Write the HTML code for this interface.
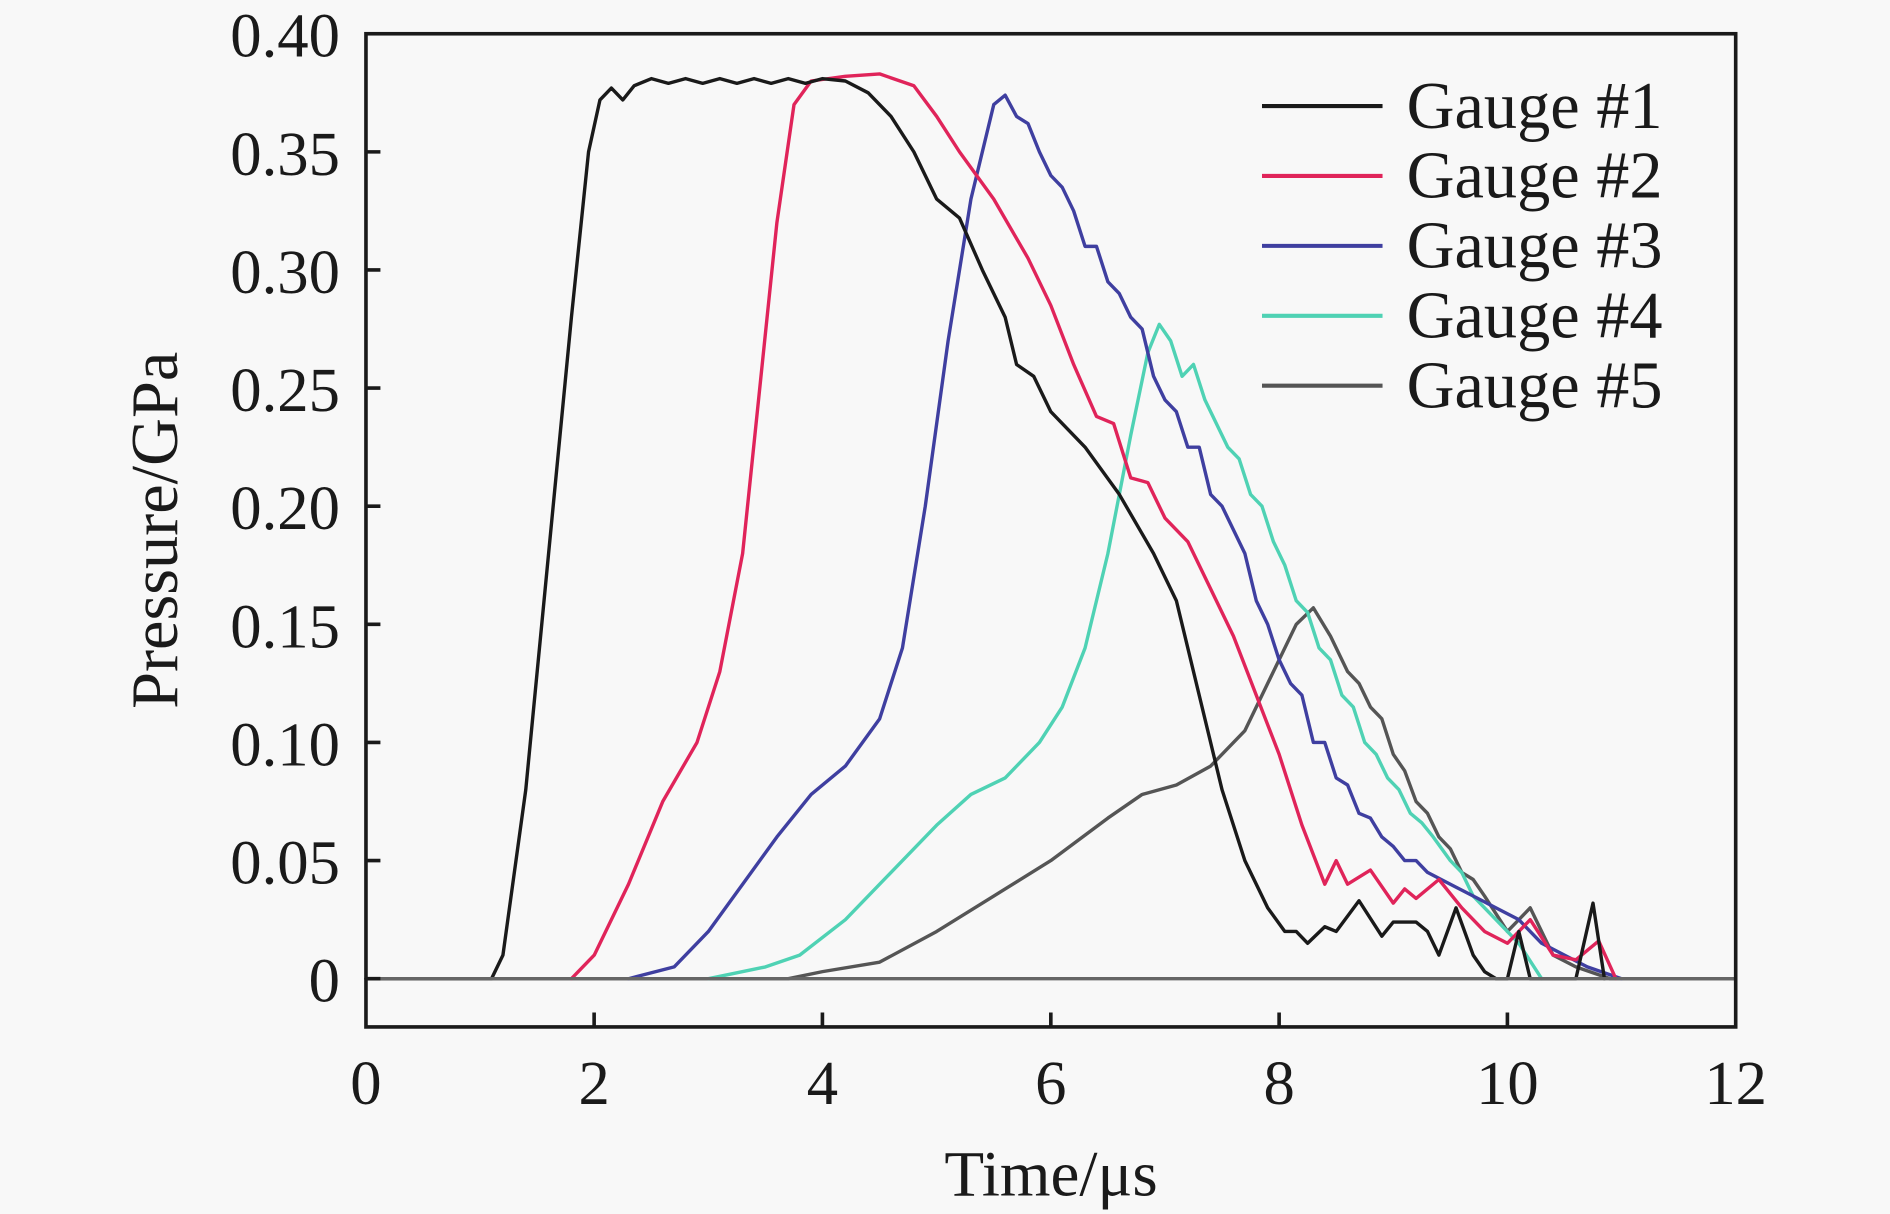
<!DOCTYPE html>
<html><head><meta charset="utf-8"><style>
html,body{margin:0;padding:0;background:#f8f8f8}
svg{display:block}
text{font-family:"Liberation Serif",serif;fill:#1a1a1a}
</style></head><body>
<svg width="1890" height="1214" viewBox="0 0 1568 1007.2" xmlns="http://www.w3.org/2000/svg">
<rect width="1568" height="1007.2" fill="#f8f8f8"/>
<g transform="translate(303.6,812) scale(94.7,-1960)" fill="none" stroke-width="3.4" stroke-linejoin="round" stroke-linecap="round">
<polyline vector-effect="non-scaling-stroke" stroke="#555" points="0,0 3.7,0 4.0,0.003 4.5,0.007 5.0,0.02 5.5,0.035 6.0,0.05 6.5,0.068 6.8,0.078 7.1,0.082 7.4,0.09 7.7,0.105 7.95,0.13 8.15,0.15 8.3,0.157 8.45,0.145 8.6,0.13 8.7,0.125 8.8,0.115 8.9,0.11 9.0,0.095 9.1,0.088 9.2,0.075 9.3,0.07 9.4,0.06 9.5,0.055 9.6,0.045 9.7,0.042 9.8,0.035 10.0,0.02 10.2,0.03 10.4,0.01 10.6,0.005 10.9,0 12,0"/>
<polyline vector-effect="non-scaling-stroke" stroke="#4fd2b4" points="3.0,0 3.5,0.005 3.8,0.01 4.2,0.025 4.6,0.045 5.0,0.065 5.3,0.078 5.6,0.085 5.9,0.1 6.1,0.115 6.3,0.14 6.5,0.18 6.7,0.23 6.85,0.265 6.95,0.277 7.05,0.27 7.15,0.255 7.25,0.26 7.35,0.245 7.45,0.235 7.55,0.225 7.65,0.22 7.75,0.205 7.85,0.2 7.95,0.185 8.05,0.175 8.15,0.16 8.25,0.155 8.35,0.14 8.45,0.135 8.55,0.12 8.65,0.115 8.75,0.1 8.85,0.095 8.95,0.085 9.05,0.08 9.15,0.07 9.25,0.066 9.35,0.06 9.5,0.05 9.6,0.045 9.7,0.035 9.9,0.025 10.1,0.015 10.3,0"/>
<polyline vector-effect="non-scaling-stroke" stroke="#3f3fa0" points="2.3,0 2.7,0.005 3.0,0.02 3.3,0.04 3.6,0.06 3.9,0.078 4.2,0.09 4.5,0.11 4.7,0.14 4.9,0.2 5.1,0.27 5.3,0.33 5.5,0.37 5.6,0.374 5.7,0.365 5.8,0.362 5.9,0.35 6.0,0.34 6.1,0.335 6.2,0.325 6.3,0.31 6.4,0.31 6.5,0.295 6.6,0.29 6.7,0.28 6.8,0.275 6.9,0.255 7.0,0.245 7.1,0.24 7.2,0.225 7.3,0.225 7.4,0.205 7.5,0.2 7.6,0.19 7.7,0.18 7.8,0.16 7.9,0.15 8.0,0.135 8.1,0.125 8.2,0.12 8.3,0.1 8.4,0.1 8.5,0.085 8.6,0.082 8.7,0.07 8.8,0.068 8.9,0.06 9.0,0.056 9.1,0.05 9.2,0.05 9.3,0.045 9.5,0.04 9.7,0.035 9.9,0.03 10.1,0.025 10.3,0.015 10.5,0.01 10.7,0.005 11.0,0"/>
<polyline vector-effect="non-scaling-stroke" stroke="#e0245a" points="1.8,0 2.0,0.01 2.3,0.04 2.6,0.075 2.9,0.1 3.1,0.13 3.3,0.18 3.45,0.25 3.6,0.32 3.75,0.37 3.9,0.38 4.2,0.382 4.5,0.383 4.8,0.378 5.0,0.365 5.2,0.35 5.5,0.33 5.8,0.305 6.0,0.285 6.2,0.26 6.4,0.238 6.55,0.235 6.7,0.212 6.85,0.21 7.0,0.195 7.2,0.185 7.4,0.165 7.6,0.145 7.8,0.12 8.0,0.095 8.2,0.065 8.4,0.04 8.5,0.05 8.6,0.04 8.8,0.046 9.0,0.032 9.1,0.038 9.2,0.034 9.4,0.042 9.6,0.03 9.8,0.02 10.0,0.015 10.2,0.025 10.4,0.01 10.6,0.008 10.8,0.016 10.95,0"/>
<polyline vector-effect="non-scaling-stroke" stroke="#1a1a1a" points="0,0 1.1,0 1.2,0.01 1.4,0.08 1.6,0.18 1.8,0.28 1.95,0.35 2.05,0.372 2.15,0.377 2.25,0.372 2.35,0.378 2.5,0.381 2.65,0.379 2.8,0.381 2.95,0.379 3.1,0.381 3.25,0.379 3.4,0.381 3.55,0.379 3.7,0.381 3.85,0.379 4.0,0.381 4.2,0.38 4.4,0.375 4.6,0.365 4.8,0.35 5.0,0.33 5.2,0.322 5.4,0.3 5.6,0.28 5.7,0.26 5.85,0.255 6.0,0.24 6.3,0.225 6.6,0.205 6.9,0.18 7.1,0.16 7.3,0.12 7.5,0.08 7.7,0.05 7.9,0.03 8.05,0.02 8.15,0.02 8.25,0.015 8.4,0.022 8.5,0.02 8.7,0.033 8.9,0.018 9.0,0.024 9.2,0.024 9.3,0.02 9.4,0.01 9.55,0.03 9.7,0.01 9.8,0.003 9.9,0 10.0,0 10.1,0.02 10.2,0 10.6,0 10.75,0.032 10.85,0"/>
<polyline vector-effect="non-scaling-stroke" stroke="#666" points="0,0 12,0"/>
</g>
<g stroke="#1a1a1a" stroke-width="3" fill="none">
<rect x="303.6" y="28" width="1136.4" height="824"/>
<path d="M303.6,714h12M303.6,616h12M303.6,518h12M303.6,420h12M303.6,322h12M303.6,224h12M303.6,126h12 M303.6,812h12 M492.9,852v-12M682.3,852v-12M871.8,852v-12M1061.2,852v-12M1250.6,852v-12"/>
</g>
<g font-size="52" text-anchor="end">
<text x="282" y="47">0.40</text><text x="282" y="145">0.35</text><text x="282" y="243">0.30</text><text x="282" y="341">0.25</text><text x="282" y="439">0.20</text><text x="282" y="537">0.15</text><text x="282" y="635">0.10</text><text x="282" y="733">0.05</text><text x="282" y="831">0</text>
</g>
<g font-size="52" text-anchor="middle">
<text x="303.6" y="916">0</text><text x="492.9" y="916">2</text><text x="682.3" y="916">4</text><text x="871.8" y="916">6</text><text x="1061.2" y="916">8</text><text x="1250.6" y="916">10</text><text x="1440" y="916">12</text>
<text x="872" y="992" font-size="54">Time/μs</text>
<text transform="translate(147,440) rotate(-90)" font-size="55">Pressure/GPa</text>
</g>
<g stroke-width="3.4">
<line x1="1047" y1="88" x2="1147" y2="88" stroke="#1a1a1a"/>
<line x1="1047" y1="146" x2="1147" y2="146" stroke="#e0245a"/>
<line x1="1047" y1="204" x2="1147" y2="204" stroke="#3f3fa0"/>
<line x1="1047" y1="262" x2="1147" y2="262" stroke="#4fd2b4"/>
<line x1="1047" y1="320" x2="1147" y2="320" stroke="#555"/>
</g>
<g font-size="55">
<text x="1167" y="106">Gauge #1</text><text x="1167" y="164">Gauge #2</text><text x="1167" y="222">Gauge #3</text><text x="1167" y="280">Gauge #4</text><text x="1167" y="338">Gauge #5</text>
</g>
</svg>
</body></html>
